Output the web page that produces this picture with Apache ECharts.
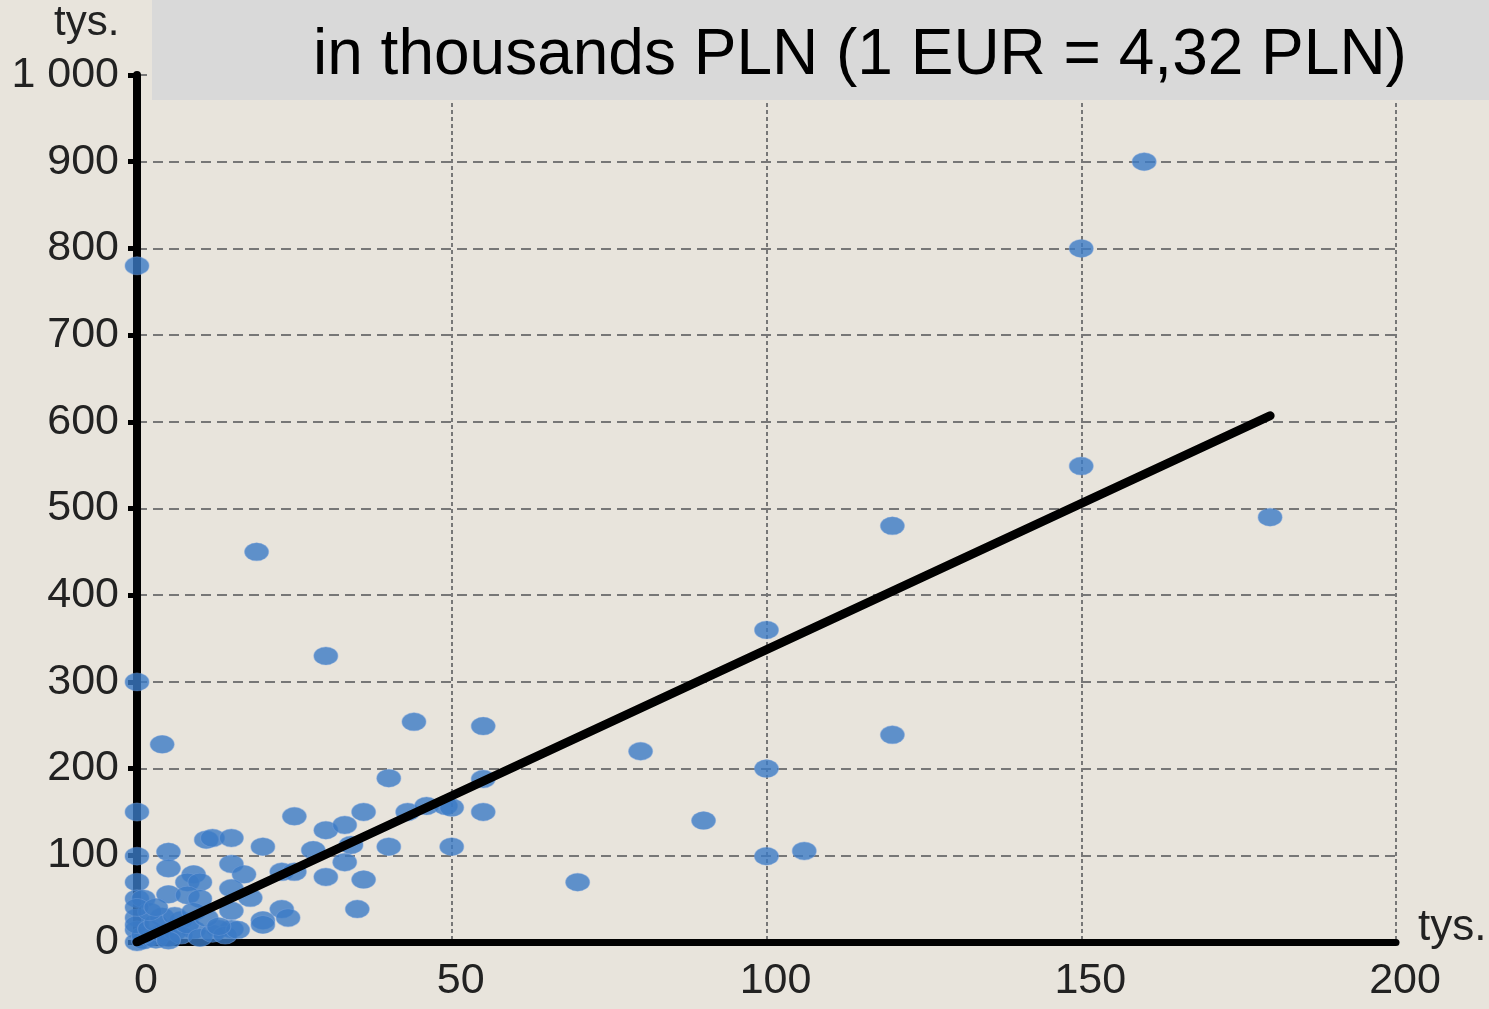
<!DOCTYPE html>
<html>
<head>
<meta charset="utf-8">
<script src="https://cdn.jsdelivr.net/npm/echarts@6/dist/echarts.min.js"></script>
<style>
  html, body { margin: 0; padding: 0; background: #e8e4dc; }
  #chart { width: 1489px; height: 1009px; }
</style>
</head>
<body>
<div id="chart"></div>
<script>
// values, thousands
const xTicks = [0, 50, 100, 150, 200]
const yTicks = [0, 100, 200, 300, 400, 500, 600, 700, 800, 900, 1000]
const pointsX = [
  0, 160, 150, 150, 180, 120, 19, 100, 30, 0, 4, 44, 55, 120, 80, 100, 40, 55,
  0, 25, 36, 43, 46, 49, 50, 55, 90, 30, 33, 11, 12, 15, 20, 40, 50, 28, 34,
  0, 5, 100, 106, 33, 15, 5, 23, 25, 9, 17, 70, 0, 30, 36, 8, 10, 15, 18, 5,
  0, 1, 8, 10, 35, 15, 23, 24, 20, 20, 15, 13, 9, 0, 4, 7, 0,
  0, 1, 2, 3, 1, 4, 0, 2, 5, 6, 3, 7, 8, 10, 12, 6, 2, 0, 9, 11, 14, 16, 5, 13, 3
]
const pointsY = [
  780, 900, 800, 549, 490, 480, 450, 360, 330, 300, 228, 254, 249, 239, 220, 200, 189, 188,
  150, 145, 150, 150, 157, 157, 155, 150, 140, 129, 135, 118, 120, 120, 110, 110, 110, 106, 112,
  99, 104, 99, 105, 92, 90, 85, 81, 81, 78, 78, 69, 69, 75, 72, 69, 69, 62, 51, 55,
  50, 50, 54, 50, 38, 36, 38, 28, 25, 20, 15, 15, 14, 28, 29, 25, 14,
  0, 2, 5, 3, 8, 10, 20, 15, 5, 12, 22, 8, 20, 5, 10, 30, 35, 40, 35, 28, 8, 14, 2, 18, 40
]
const trendX = [0, 180]
const trendY = [0, 607]

const points = pointsX.map((x, i) => [x, pointsY[i]])
const trend = trendX.map((x, i) => [x, trendY[i]])

const chart = echarts.init(document.getElementById('chart'))
chart.setOption({
  backgroundColor: '#e8e4dc',
  animation: false,
  grid: { left: 137, right: 93, top: 75, bottom: 67 },
  xAxis: {
    type: 'value',
    min: xTicks[0],
    max: xTicks[xTicks.length - 1],
    interval: 50,
    axisLine: { lineStyle: { color: '#000', width: 7 } },
    axisTick: { show: false },
    axisLabel: {
      color: '#222',
      fontFamily: 'Liberation Sans',
      fontSize: 43,
      margin: 18,
      padding: [0, 0, 0, 18]
    },
    splitLine: {
      show: true,
      lineStyle: { color: '#777', width: 2, type: [4, 3] }
    }
  },
  yAxis: {
    type: 'value',
    min: yTicks[0],
    max: yTicks[yTicks.length - 1],
    interval: 100,
    axisLine: { show: true, lineStyle: { color: '#000', width: 8 } },
    axisTick: { show: true, length: 9, lineStyle: { color: '#000', width: 5 } },
    axisLabel: {
      color: '#222',
      fontFamily: 'Liberation Sans',
      fontSize: 43,
      margin: 18,
      formatter: v => (v >= 1000 ? String(v).replace(/(\d)(?=(\d{3})$)/, '$1 ') : String(v))
    },
    splitLine: {
      show: true,
      lineStyle: { color: '#777', width: 2, type: [10, 6] }
    }
  },
  series: [
    {
      type: 'scatter',
      data: points,
      symbol: 'circle',
      symbolSize: [24, 18],
      itemStyle: { color: '#3b7bc6', borderColor: 'rgba(120,160,220,0.6)', borderWidth: 1 },
      z: 3
    },
    {
      type: 'line',
      data: trend,
      symbol: 'none',
      lineStyle: { color: '#000', width: 9, cap: 'round' },
      z: 4
    }
  ],
  graphic: [
    {
      type: 'rect',
      left: 152,
      top: 0,
      shape: { width: 1337, height: 100 },
      style: { fill: '#d9d9d9' },
      z: 100
    },
    {
      type: 'text',
      left: 313,
      top: 24,
      style: {
        text: 'in thousands PLN (1 EUR = 4,32 PLN)',
        fill: '#000',
        font: '64px "Liberation Sans"'
      },
      z: 101
    },
    {
      type: 'text',
      left: 54,
      top: 2,
      style: { text: 'tys.', fill: '#222', font: '42px "Liberation Sans"' },
      z: 101
    },
    {
      type: 'text',
      left: 1418,
      top: 906,
      style: { text: 'tys.', fill: '#222', font: '44px "Liberation Sans"' },
      z: 101
    }
  ]
})
</script>
</body>
</html>
